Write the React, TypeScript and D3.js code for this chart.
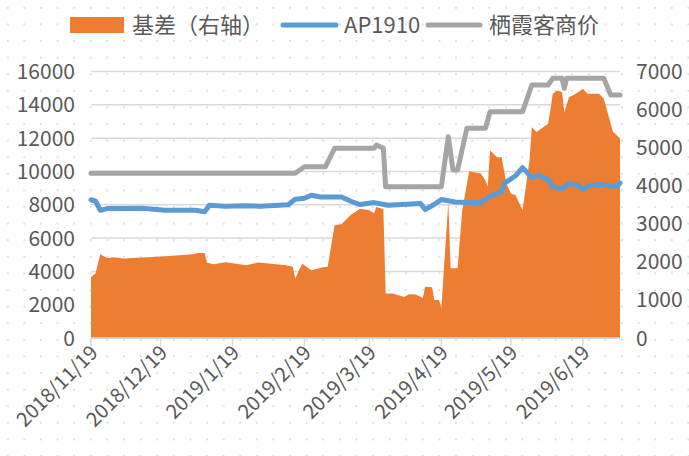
import React from "react";
import * as d3 from "d3";

// ---- data ----
const basisDates = [
  "2018-11-19","2018-11-21","2018-11-23","2018-11-26","2018-11-29","2018-12-03","2018-12-13","2018-12-21",
  "2019-01-02","2019-01-04","2019-01-07","2019-01-08","2019-01-11","2019-01-16","2019-01-25","2019-01-30",
  "2019-02-11","2019-02-14","2019-02-15","2019-02-18","2019-02-22","2019-02-27","2019-03-01","2019-03-04",
  "2019-03-07","2019-03-11","2019-03-15","2019-03-19","2019-03-21","2019-03-22","2019-03-25","2019-03-26",
  "2019-03-29","2019-04-03","2019-04-05","2019-04-08","2019-04-11","2019-04-12","2019-04-15","2019-04-16",
  "2019-04-18","2019-04-19","2019-04-22","2019-04-23","2019-04-26","2019-04-28","2019-05-01","2019-05-06",
  "2019-05-08","2019-05-09","2019-05-10","2019-05-13","2019-05-15","2019-05-17","2019-05-19","2019-05-21",
  "2019-05-24","2019-05-27","2019-05-28","2019-05-30","2019-06-04","2019-06-05","2019-06-06","2019-06-08",
  "2019-06-10","2019-06-11","2019-06-13","2019-06-16","2019-06-19","2019-06-21","2019-06-26","2019-06-28",
  "2019-07-02","2019-07-03","2019-07-05"
];
const basisValues = [
  1600,1700,2200,2100,2120,2090,2120,2150,
  2200,2230,2230,1975,1940,1990,1910,1985,
  1910,1870,1565,1950,1780,1860,1870,2960,
  2990,3240,3395,3355,3280,3440,3380,1170,
  1170,1080,1150,1140,1050,1345,1335,1000,
  1000,780,3575,1830,1830,3355,4380,4320,
  4140,3970,4930,4750,4750,4055,3795,3750,
  3355,4670,5540,5410,5630,5980,6415,6500,
  6460,5930,6325,6415,6545,6415,6415,6285,
  5410,5365,5235
];

const apDates = [
  "2018-11-19","2018-11-21","2018-11-23","2018-11-26","2018-12-11","2018-12-21","2019-01-03","2019-01-07",
  "2019-01-09","2019-01-16","2019-01-24","2019-01-31","2019-02-12","2019-02-15","2019-02-19","2019-02-22",
  "2019-02-26","2019-03-07","2019-03-11","2019-03-15","2019-03-21","2019-03-27","2019-04-02","2019-04-10",
  "2019-04-12","2019-04-16","2019-04-19","2019-04-25","2019-05-06","2019-05-10","2019-05-15","2019-05-16",
  "2019-05-21","2019-05-24","2019-05-28","2019-05-31","2019-06-04","2019-06-06","2019-06-10","2019-06-13",
  "2019-06-17","2019-06-19","2019-06-21","2019-06-27","2019-07-01","2019-07-04","2019-07-05"
];
const apValues = [
  8300,8210,7670,7770,7790,7670,7670,7580,
  7970,7910,7940,7910,8000,8330,8390,8570,
  8470,8470,8210,8010,8130,7970,8010,8070,
  7710,8030,8310,8170,8120,8510,8770,9270,
  9740,10230,9630,9770,9510,9070,8970,9270,
  9170,8910,9110,9230,9110,9110,9310
];

const spotDates = [
  "2018-11-19","2019-02-15","2019-02-19","2019-02-28","2019-03-04","2019-03-21","2019-03-22","2019-03-25",
  "2019-03-26","2019-04-19","2019-04-22","2019-04-24","2019-04-26","2019-04-30","2019-05-08","2019-05-10",
  "2019-05-24","2019-05-28","2019-06-04","2019-06-06","2019-06-10","2019-06-11","2019-06-12","2019-06-28",
  "2019-07-01","2019-07-05"
];
const spotValues = [
  9890,9890,10280,10280,11390,11390,11590,11390,
  9080,9080,12090,10090,10090,12590,12590,13590,
  13590,15190,15190,15590,15590,14990,15590,15590,
  14590,14590
];

const xTickLabels = ["2018/11/19","2018/12/19","2019/1/19","2019/2/19","2019/3/19","2019/4/19","2019/5/19","2019/6/19"];
const leftTicks = [0,2000,4000,6000,8000,10000,12000,14000,16000];
const rightTicks = [0,1000,2000,3000,4000,5000,6000,7000];
const seriesNames = ["基差（右轴）","AP1910","栖霞客商价"];
const xDomain = ["2018-11-19","2019-07-05"];

const W = 689, H = 456;
const FONT = "'Noto Sans CJK SC', 'Noto Sans', sans-serif";
const TXT = "#595959";

export default function App() {
  const parse = d3.timeParse("%Y-%m-%d");
  const parseTick = d3.timeParse("%Y/%m/%d");
  const x = d3.scaleTime().domain(xDomain.map((s) => parse(s) as Date)).range([91, 620]);
  const yL = d3.scaleLinear().domain([0, 16000]).range([338, 71.5]);
  const yR = d3.scaleLinear().domain([0, 7000]).range([338, 71.5]);

  const basis = basisDates.map((d, i) => ({ d: parse(d) as Date, v: basisValues[i] }));
  const ap = apDates.map((d, i) => ({ d: parse(d) as Date, v: apValues[i] }));
  const spot = spotDates.map((d, i) => ({ d: parse(d) as Date, v: spotValues[i] }));

  const area = d3.area<{ d: Date; v: number }>().x((p) => x(p.d)).y0(yR(0)).y1((p) => yR(p.v));
  const lineL = d3.line<{ d: Date; v: number }>().x((p) => x(p.d)).y((p) => yL(p.v));

  const ticks = xTickLabels.map((t) => ({ t, x: x(parseTick(t) as Date) }));

  return (
    <svg width={W} height={H} style={{ position: "absolute", left: 0, top: 0 }} fontFamily={FONT}>
      <defs>
        <pattern id="dots" width={16.6} height={16.6} patternUnits="userSpaceOnUse">
          <rect x={7} y={7} width={1.6} height={1.6} fill="#cfcfcf" />
        </pattern>
      </defs>
      <rect x={0} y={0} width={W} height={H} fill="#fff" />
      <rect x={0} y={0} width={W} height={H} fill="url(#dots)" />

      {/* gridlines */}
      {leftTicks.map((t) => (
        <line key={t} x1={91} x2={620} y1={yL(t)} y2={yL(t)} stroke="#d9d9d9" strokeWidth={1.5} />
      ))}

      {/* basis area */}
      <path d={area(basis) || ""} fill="#ED7D31" />

      {/* x axis */}
      <line x1={91} x2={620} y1={338} y2={338} stroke="#d9d9d9" strokeWidth={1.5} />
      {ticks.map((t) => (
        <line key={t.t} x1={t.x} x2={t.x} y1={338} y2={346} stroke="#d9d9d9" strokeWidth={1.5} />
      ))}

      {/* lines */}
      <path d={lineL(spot) || ""} fill="none" stroke="#A5A5A5" strokeWidth={5} strokeLinejoin="round" strokeLinecap="round" />
      <path d={lineL(ap) || ""} fill="none" stroke="#5B9BD5" strokeWidth={5} strokeLinejoin="round" strokeLinecap="round" />

      {/* left axis labels */}
      {leftTicks.map((t) => (
        <text key={t} x={75} y={yL(t) + 7.5} textAnchor="end" fontSize={21} fill={TXT}>{t}</text>
      ))}
      {/* right axis labels */}
      {rightTicks.map((t) => (
        <text key={t} x={636} y={yR(t) + 7.5} textAnchor="start" fontSize={21} fill={TXT}>{t}</text>
      ))}
      {/* x labels */}
      {ticks.map((t) => (
        <text key={t.t} transform={`translate(${t.x + 8},${354}) rotate(-45)`} textAnchor="end" fontSize={20} fill={TXT}>{t.t}</text>
      ))}

      {/* legend */}
      <rect x={70} y={17} width={54} height={16} fill="#ED7D31" />
      <text x={132} y={33} fontSize={22} fill={TXT}>{seriesNames[0]}</text>
      <line x1={283} x2={336} y1={25} y2={25} stroke="#5B9BD5" strokeWidth={5} strokeLinecap="round" />
      <text x={344} y={33} fontSize={22} fill={TXT}>{seriesNames[1]}</text>
      <line x1={428} x2={480} y1={25} y2={25} stroke="#A5A5A5" strokeWidth={5} strokeLinecap="round" />
      <text x={489} y={33} fontSize={22} fill={TXT}>{seriesNames[2]}</text>
    </svg>
  );
}
